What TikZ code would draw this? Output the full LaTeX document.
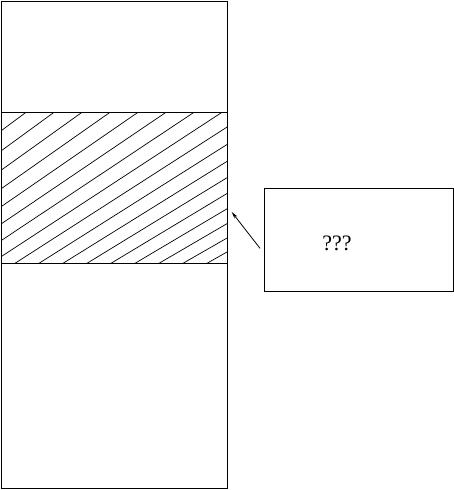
\documentclass[tikz,border=0pt]{standalone}
\usepackage{fontspec}
\setmainfont{Liberation Serif}
\usetikzlibrary{arrows.meta}
\tikzset{
  outline/.style={draw=black, line width=1pt},
  hatchline/.style={draw=black, line width=0.7pt},
  labelbox/.style={draw=black, line width=1pt, minimum width=189pt, minimum height=102.7pt, inner sep=0pt},
  labeltext/.style={inner sep=0pt, font=\fontsize{22}{26}\selectfont},
  pointer/.style={draw=black, line width=0.8pt, -{Stealth[length=7pt,width=3.5pt]}}
}
\begin{document}
\begin{tikzpicture}[x=1pt,y=-1pt]
\useasboundingbox (0,0) rectangle (454,490);
% hatching in the band
\begin{scope}
  \clip (1,112.3) rectangle (227.3,263.3);
  \foreach \k in {-9,...,8} {
    \draw[hatchline] ({15+24*\k},263.3) -- ({250+28*\k},112.3);
  }
\end{scope}
% tall column
\draw[outline] (1,1) rectangle (227.3,488.7);
\draw[outline] (1,112.3) -- (227.3,112.3);
\draw[outline] (1,263.3) -- (227.3,263.3);
% label box
\node[labelbox] (box) at (358.8,239.7) {};
\node[labeltext, anchor=base] (q) at (337,250.7) {???};
% pointer
\coordinate (a0) at (260,248.3);
\coordinate (a1) at (231.7,212);
\draw[pointer] (a0) -- (a1);
\end{tikzpicture}
\end{document}
